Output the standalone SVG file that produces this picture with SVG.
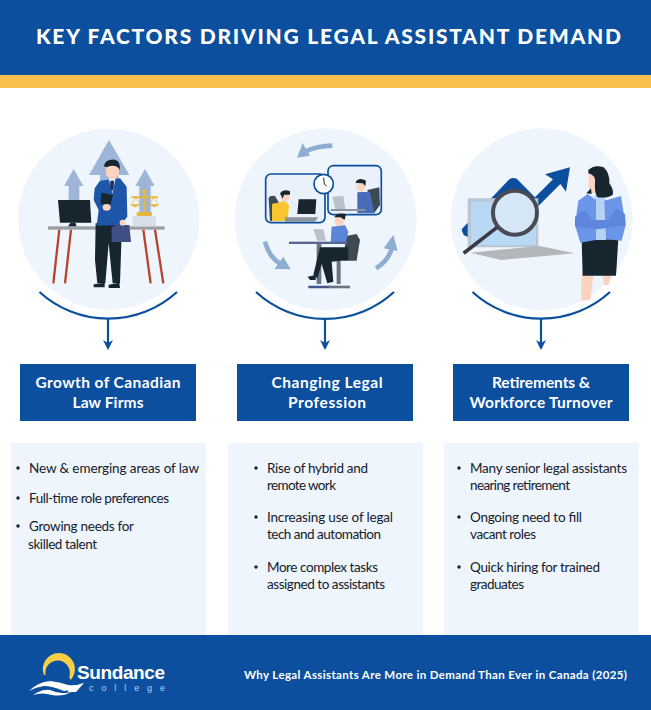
<svg xmlns="http://www.w3.org/2000/svg" width="651" height="710" viewBox="0 0 651 710">
<style>
text{font-family:"Lato","Liberation Sans",sans-serif}
.blue{fill:#0b4f9e}
.disc{fill:#eff5fc}
.panel{fill:#eef5fc}
.head{fill:#fff;font-weight:700;font-size:15.5px;text-anchor:middle}
.body{fill:#14202b;font-size:13.5px}
.dot{fill:#14202b}
.arc{fill:none;stroke:#0b4f9e;stroke-width:2.2}
.dark{fill:#17252f}
.skin{fill:#fbd3c0}
.up{fill:#9db6d8}
.cyc{fill:none;stroke:#8eadd3;stroke-width:14}
.cych{fill:#8eadd3}
.frame{fill:#eaf1fb;stroke:#0b4f9e;stroke-width:5}
.leg{stroke:#b5462f;stroke-width:7;fill:none}
.gold{fill:#e8b63c}
</style>
<defs>
<marker id="ah" markerUnits="userSpaceOnUse" markerWidth="10" markerHeight="10" refX="8" refY="5" orient="auto" viewBox="0 0 10 10"><path d="M0 0L3 5 0 10 10 5Z" fill="#0b4f9e"/></marker>
</defs>
<rect width="651" height="710" fill="#fff"/>
<g id="header">
<rect class="blue" width="651" height="75"/>
<rect y="75" width="651" height="13" fill="#fbbf4d"/>
<text x="36" y="44" fill="#fff" font-size="21" font-weight="900" textLength="585">KEY FACTORS DRIVING LEGAL ASSISTANT DEMAND</text>
</g>

<g id="illustration-growth" transform="translate(0 110) scale(.3333)">
<circle class="disc" cx="326" cy="328" r="272"/>
<path class="up" d="M327 90 388 195H355V260H300V195H267Z"/>
<path class="up" d="M221 177 250 228H238V270H206V228H192Z"/>
<path class="up" d="M435 177 464 228H452V310H418V228H406Z"/>
<path class="leg" d="M178 359 160 520M213 359 195 520M430 359 452 520M465 359 490 520"/>
<rect x="144" y="349" width="350" height="10" fill="#9a9fa6"/>
<path class="dark" d="M174 270H270L274 338H180Z"/>
<path class="dark" d="M212 338H226L230 349H204Z"/>
<rect x="398" y="318" width="70" height="31" fill="#d9dfe8"/>
<path d="M433 240V310M395 262H474" stroke="#e8b63c" stroke-width="6" fill="none"/>
<path class="gold" d="M390 283Q405 300 420 283ZM447 283Q462 300 478 283Z"/>
<path d="M409 262 393 285M409 262 419 285M460 262 449 285M460 262 476 285" stroke="#e8b63c" stroke-width="2"/>
<circle class="gold" cx="433" cy="245" r="7"/>
<rect class="gold" x="410" y="306" width="46" height="12" rx="3"/>
<path class="dark" d="M287 340H366L360 520H338L326 400 316 520H292L285 450Z"/>
<path class="dark" d="M281 523 314 518V532H281ZM326 524 358 518 360 534H326Z"/>
<path d="M300 212 360 205 380 230 382 320 362 345 290 347 296 300 281 270 284 235Z" fill="#1d56a8"/>
<path d="M326 205H347L337 252Z" fill="#e8eef8"/>
<path d="M331 212H342L341 232 336 246 331 232Z" fill="#1b2a57"/>
<path class="dark" d="M304 248 339 255 330 288 302 282Z"/>
<ellipse class="skin" cx="320" cy="292" rx="12" ry="10"/>
<path class="skin" d="M318 165H357V193L345 207H330L318 193Z"/>
<path class="dark" d="M311 168Q318 146 345 149 363 154 359 180 352 164 330 168L320 172Z"/>
<path d="M335 352 348 345H388L393 396H335Z" fill="#3f4f85"/>
<ellipse class="skin" cx="368" cy="338" rx="9" ry="9"/>
</g>

<g id="illustration-profession" transform="translate(220 110) scale(.3333)">
<circle class="disc" cx="317" cy="328" r="273"/>
<path class="cyc" d="M337 107Q290 108 255 125"/>
<path class="cych" d="M231 143 248 100 270 137Z"/>
<path class="cyc" d="M135 395Q148 445 185 463"/>
<path class="cych" d="M212 478 163 477 190 440Z"/>
<path class="cyc" d="M468 475Q510 450 520 400"/>
<path class="cych" d="M520 375 533 423 491 415Z"/>
<rect class="frame" x="137" y="192" width="178" height="146" rx="16"/>
<path d="M146 265Q148 256 165 258L178 280 175 333H150Z" fill="#3d4a52"/>
<path d="M156 282 195 273 207 285 203 333H156Z" fill="#f7c52f"/>
<ellipse class="skin" cx="195" cy="260" rx="13" ry="16"/>
<path class="dark" d="M180 250Q190 236 210 244V254H192L188 266Z"/>
<path class="dark" d="M236 268H289L286 312H232Z"/>
<path d="M195 322H295L285 335H195Z" fill="#8a949e"/>
<rect class="frame" x="324" y="167" width="160" height="147" rx="16"/>
<path d="M442 240 478 232 480 285 462 310Z" fill="#3d4a52"/>
<path d="M412 247 450 245 463 310H412Z" fill="#4a6cb8"/>
<ellipse class="skin" cx="423" cy="228" rx="14" ry="17"/>
<path class="dark" d="M406 218Q415 200 438 212L436 228 428 220Z"/>
<path d="M337 260 370 258 376 297H346Z" fill="#b9c1cc"/>
<rect x="332" y="297" width="105" height="6" fill="#8a949e"/>
<circle cx="311" cy="222" r="29" fill="#fff" stroke="#0b4f9e" stroke-width="5"/>
<path d="M311 203 313 222 320 229" fill="none" stroke="#17252f" stroke-width="3"/>
<path d="M378 378 410 372 420 390 410 452H370Z" fill="#3d4a52"/>
<path d="M335 350 375 345 385 365 378 397H332Z" fill="#5b86d8"/>
<path d="M280 358 310 358 318 392H292Z" fill="#b9c1cc"/>
<ellipse class="skin" cx="358" cy="332" rx="14" ry="16"/>
<path class="dark" d="M343 322Q348 306 378 312L374 330 362 322Z"/>
<rect x="207" y="395" width="175" height="7" fill="#57648f"/>
<path d="M290 402H304V522H290ZM350 452H362V522H350Z" fill="#6a7480"/>
<path class="dark" d="M300 412H385L385 450 335 455 340 515 322 520 305 462 292 505 280 495Z"/>
<path d="M264 527H330L326 535H266Z" fill="#44528e"/>
<path d="M325 527H390V535H325Z" fill="#6a7480"/>
<path class="dark" d="M263 500 287 495V510L270 510Z"/>
</g>

<g id="illustration-retirement" transform="translate(431 110) scale(.3333)">
<circle class="disc" cx="332" cy="328" r="273"/>
<path d="M92 358 235 208Q246 200 258 207L312 262 366 208 342 193 417 172 405 245 388 222 305 305 258 310 110 380Q95 380 92 358Z" fill="#0b4f9e"/>
<path d="M110 265H322V412H110Z" fill="#b9c6d4"/>
<path d="M120 275H315V405H120Z" fill="#b8d8f3"/>
<path d="M118 428 325 408 432 430 210 450Z" fill="#b3b6ba"/>
<circle cx="252" cy="308" r="66" fill="#d5e7f7" stroke="#4a4a55" stroke-width="12"/>
<path d="M198 352 98 430" stroke="#3a3a42" stroke-width="11" fill="none"/>
<path class="skin" d="M452 490H488L478 570 450 572ZM515 490H545L532 525 518 525Z"/>
<path class="dark" d="M452 388H562L555 497H455Z"/>
<path d="M490 255H522L525 390H495Z" fill="#b6d2f5"/>
<path d="M470 252 495 270 495 390 448 398 432 345 442 272ZM520 272 570 258 584 345 572 392 525 388Z" fill="#6b95e8"/>
<path d="M432 320 460 300 485 330 530 330 555 296 582 312 584 345 500 358 432 350Z" fill="#5d86dc"/>
<path class="skin" d="M473 190H493V250H480L472 230Z"/>
<path class="dark" d="M472 180Q490 162 518 172 537 190 535 220 550 240 545 255 530 265 500 262 490 250 492 220 495 195 472 190Z"/>
<path class="dark" d="M466 250 480 235 482 252Z"/>
</g>

<g id="connectors">
<path class="arc" d="M39.500 292A102 102 0 0 0 177 292"/>
<path class="arc" d="M256 292A102 102 0 0 0 394 292"/>
<path class="arc" d="M472.500 292A102 102 0 0 0 610 292"/>
<path class="arc" d="M108 319V348" marker-end="url(#ah)"/>
<path class="arc" d="M325 319V348" marker-end="url(#ah)"/>
<path class="arc" d="M541 319V348" marker-end="url(#ah)"/>
</g>

<g id="node-growth">
<rect class="blue" x="20" y="364" width="176" height="57"/>
<text class="head" x="108" y="388" textLength="145">Growth of Canadian</text>
<text class="head" x="108" y="408" textLength="71">Law Firms</text>
<rect class="panel" x="11" y="443" width="195" height="192"/>
<circle class="dot" cx="18" cy="468" r="1.700"/><circle class="dot" cx="18" cy="498" r="1.700"/><circle class="dot" cx="18" cy="526" r="1.700"/>
<text class="body" x="29" y="473" textLength="170">New &amp; emerging areas of law</text>
<text class="body" x="29" y="503" textLength="140">Full-time role preferences</text>
<text class="body" x="29" y="531" textLength="105">Growing needs for</text>
<text class="body" x="28" y="549" textLength="69">skilled talent</text>
</g>

<g id="node-profession">
<rect class="blue" x="237" y="364" width="176" height="57"/>
<text class="head" x="327" y="388" textLength="111">Changing Legal</text>
<text class="head" x="327" y="408" textLength="78">Profession</text>
<rect class="panel" x="228" y="443" width="195" height="192"/>
<circle class="dot" cx="256" cy="468" r="1.700"/><circle class="dot" cx="256" cy="517" r="1.700"/><circle class="dot" cx="256" cy="567" r="1.700"/>
<text class="body" x="267" y="473" textLength="101">Rise of hybrid and</text>
<text class="body" x="267" y="490" textLength="69">remote work</text>
<text class="body" x="267" y="522" textLength="126">Increasing use of legal</text>
<text class="body" x="267" y="539" textLength="114">tech and automation</text>
<text class="body" x="267" y="572" textLength="111">More complex tasks</text>
<text class="body" x="267" y="589" textLength="118">assigned to assistants</text>
</g>

<g id="node-retirement">
<rect class="blue" x="453" y="364" width="176" height="57"/>
<text class="head" x="541" y="388" textLength="98">Retirements &amp;</text>
<text class="head" x="541" y="408" textLength="143">Workforce Turnover</text>
<rect class="panel" x="444" y="443" width="195" height="192"/>
<circle class="dot" cx="459" cy="468" r="1.700"/><circle class="dot" cx="459" cy="517" r="1.700"/><circle class="dot" cx="459" cy="567" r="1.700"/>
<text class="body" x="470" y="473" textLength="157">Many senior legal assistants</text>
<text class="body" x="470" y="490" textLength="100">nearing retirement</text>
<text class="body" x="470" y="522" textLength="112">Ongoing need to fill</text>
<text class="body" x="470" y="539" textLength="66">vacant roles</text>
<text class="body" x="470" y="572" textLength="130">Quick hiring for trained</text>
<text class="body" x="470" y="589" textLength="54">graduates</text>
</g>

<g id="footer">
<rect class="blue" y="635" width="651" height="75"/>
<path d="M44 675A16 16 0 1 1 70.500 680L69.200 677A12.300 12.300 0 1 0 45.500 675Z" fill="#f6cf45"/>
<path d="M29 691Q38 682 50 681 60 682 68 685 76 686 84 683 76 690 64 691 52 686 44 686 36 687 29 691ZM33 695Q42 689 50 690 60 695 72 692 62 697 52 695 42 692 33 695ZM68 689Q78 684 84 683L76 692 68 692Z" fill="#fff"/>
<text x="77" y="679" fill="#fff" font-size="19" font-weight="700" textLength="88" style="font-family:'Liberation Sans',sans-serif">Sundance</text>
<text x="89" y="691" fill="#b8d0ee" font-size="9" textLength="76" style="font-family:'Liberation Sans',sans-serif">college</text>
<text x="244" y="679" fill="#fff" font-size="11.500" font-weight="700" textLength="383">Why Legal Assistants Are More in Demand Than Ever in Canada (2025)</text>
</g>
</svg>
